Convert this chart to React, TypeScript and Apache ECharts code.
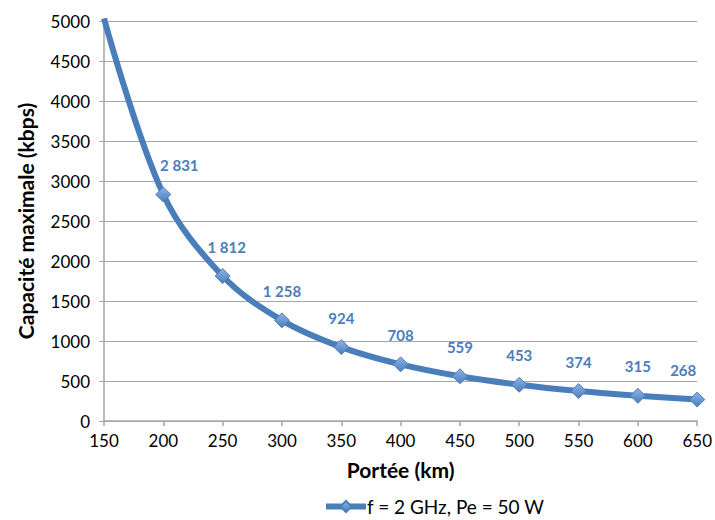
import React, { useEffect, useRef } from "react";
import * as echarts from "echarts";

const distances = [150, 200, 250, 300, 350, 400, 450, 500, 550, 600, 650];
const capacities = [5033, 2831, 1812, 1258, 924, 708, 559, 453, 374, 315, 268];
const seriesName = "f = 2 GHz, Pe = 50 W";
const xTitle = "Portée (km)";
const yTitle = "Capacité maximale (kbps)";

const FONT = "Lato, 'Open Sans', sans-serif";
const BLUE = "#4a7ebb";

function fmt(v: number): string {
  return String(Math.round(v)).replace(/\B(?=(\d{3})+(?!\d))/g, " ");
}

export default function App() {
  const ref = useRef<HTMLDivElement>(null);
  useEffect(() => {
    document.body.style.margin = "0";
    if (!ref.current) return;
    const chart = echarts.init(ref.current, null, { renderer: "svg" });
    const data = distances.map((d, i) => {
      const item: any = { value: [d, capacities[i]] };
      if (i === 0) item.label = { show: false };
      if (i === 1) item.label = { offset: [16, 0] };
      if (i === 2) item.label = { offset: [4, 0] };
      if (i === distances.length - 1) item.label = { offset: [-14, 0] };
      return item;
    });
    chart.setOption({
      animation: false,
      backgroundColor: "#ffffff",
      grid: { left: 104, right: 17, top: 21, bottom: 99, containLabel: false },
      legend: {
        top: 497,
        left: 323,
        itemWidth: 40,
        itemHeight: 14,
        itemGap: 2,
        padding: 0,
        lineStyle: { width: 6, color: BLUE },
        textStyle: { fontFamily: FONT, fontSize: 19, color: "#000", padding: [0, 0, 0, -4] },
        data: [{ name: seriesName }],
      },
      xAxis: {
        type: "value",
        min: 150,
        max: 650,
        interval: 50,
        name: xTitle,
        nameLocation: "middle",
        nameGap: 38,
        nameTextStyle: { fontFamily: FONT, fontSize: 21, fontWeight: "bold", color: "#000" },
        axisLine: { show: true, lineStyle: { color: "#a6a6a6", width: 1.5 } },
        axisTick: { show: true, length: 5, lineStyle: { color: "#a6a6a6", width: 1.5 } },
        axisLabel: { fontFamily: FONT, fontSize: 17, color: "#000", margin: 11 },
        splitLine: { show: false },
      },
      yAxis: {
        type: "value",
        min: 0,
        max: 5000,
        interval: 500,
        name: yTitle,
        nameLocation: "middle",
        nameGap: 68,
        nameTextStyle: { fontFamily: FONT, fontSize: 21, fontWeight: "bold", color: "#000" },
        axisLine: { show: true, lineStyle: { color: "#a6a6a6", width: 1.5 } },
        axisTick: { show: true, length: 5, lineStyle: { color: "#a6a6a6", width: 1 } },
        axisLabel: { fontFamily: FONT, fontSize: 17, color: "#000", margin: 14, formatter: (v: number) => String(v) },
        splitLine: { show: true, lineStyle: { color: "#a6a6a6", width: 1 } },
      },
      series: [
        {
          name: seriesName,
          type: "line",
          smooth: 0.35,
          clip: true,
          data,
          symbol: "diamond",
          symbolSize: 15,
          lineStyle: { color: BLUE, width: 6 },
          itemStyle: {
            color: new echarts.graphic.LinearGradient(0, 0, 0, 1, [
              { offset: 0, color: "#8fb4e8" },
              { offset: 1, color: "#4a7ebb" },
            ]),
            borderColor: "#4a7ebb",
            borderWidth: 1,
          },
          label: {
            show: true,
            position: "top",
            distance: 14,
            fontFamily: FONT,
            fontSize: 15,
            fontWeight: "bold",
            color: BLUE,
            formatter: (p: any) => fmt(p.value[1]),
          },
        },
      ],
    });
    return () => chart.dispose();
  }, []);
  return <div ref={ref} style={{ width: 715, height: 520 }} />;
}
